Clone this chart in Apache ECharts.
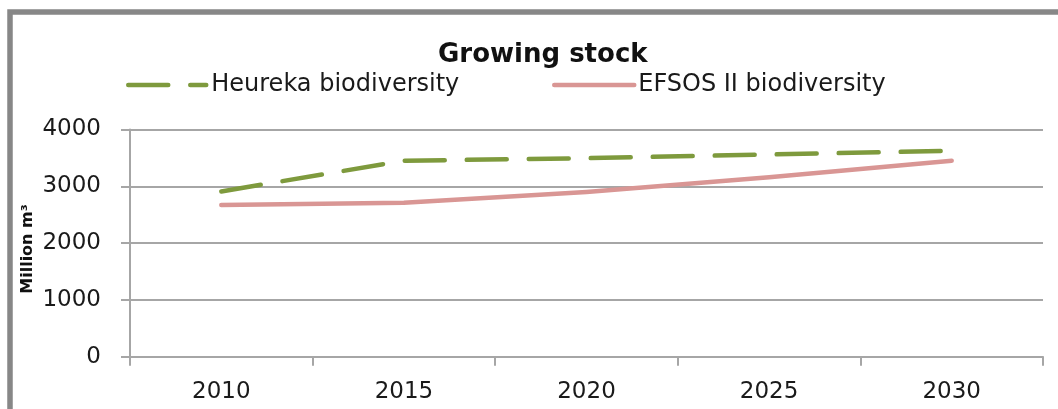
<!DOCTYPE html>
<html>
<head>
<meta charset="utf-8">
<script src="https://cdn.jsdelivr.net/npm/echarts@6/dist/echarts.min.js"></script>
<style>
  html, body { margin: 0; padding: 0; background: #ffffff; }
  #chart { width: 1058px; height: 409px; }
</style>
</head>
<body>
<div id="chart"></div>
<script>
// Growing stock projections, million m³
const years = ['2010', '2015', '2020', '2025', '2030'];
const heurekaBiodiversity = [2910, 3450, 3495, 3560, 3625];
const efsosBiodiversity = [2670, 2710, 2900, 3160, 3450];
const yTicks = { min: 0, max: 4000, interval: 1000 };
const yAxisTitle = 'Million m³';

const FONT = 'DejaVu Sans';
const GREEN = '#7e9a3d';
const PINK = '#d99694';
const GRID_GREY = '#a6a6a6';

// Legend keys show only the line stroke, no marker
const legendBase = {
  top: 68,
  itemHeight: 24,
  itemStyle: { color: 'rgba(0,0,0,0)', borderWidth: 0, opacity: 0 },
  lineStyle: { width: 4.5, cap: 'round' },
  textStyle: { fontFamily: FONT, fontSize: 24, color: '#1a1a1a' }
};

const chart = echarts.init(document.getElementById('chart'), null, { renderer: 'canvas' });

chart.setOption({
  backgroundColor: '#ffffff',
  animation: false,
  title: {
    text: 'Growing stock',
    left: 433,
    top: 37,
    textStyle: { fontFamily: FONT, fontWeight: 'bold', fontSize: 26, color: '#111111' }
  },
  graphic: [
    {
      type: 'rect',
      silent: true,
      shape: { x: 10, y: 12, width: 1200, height: 600 },
      style: { fill: 'none', stroke: '#878787', lineWidth: 5.5 }
    },
    {
      // vertical y-axis title, left of the tick labels
      type: 'text',
      silent: true,
      x: 28,
      y: 249,
      rotation: Math.PI / 2,
      style: {
        text: yAxisTitle,
        fontFamily: FONT,
        fontWeight: 'bold',
        fontSize: 16,
        fill: '#111111',
        align: 'center',
        verticalAlign: 'middle'
      }
    }
  ],
  legend: [
    Object.assign({}, legendBase, {
      data: ['Heureka biodiversity'],
      left: 121,
      itemWidth: 78,
      textStyle: Object.assign({}, legendBase.textStyle, { padding: [0, 0, 0, 0] })
    }),
    Object.assign({}, legendBase, {
      data: ['EFSOS II biodiversity'],
      left: 547,
      itemWidth: 80,
      textStyle: Object.assign({}, legendBase.textStyle, { padding: [0, 0, 0, -1] })
    })
  ],
  grid: { left: 130, right: 15, top: 129.5, bottom: 52.3, containLabel: false },
  xAxis: {
    type: 'category',
    data: years,
    boundaryGap: true,
    axisLine: { lineStyle: { color: GRID_GREY, width: 2 } },
    axisTick: { show: true, interval: 0, length: 9, lineStyle: { color: GRID_GREY, width: 2 } },
    axisLabel: { margin: 24, fontFamily: FONT, fontSize: 23, color: '#1a1a1a' },
    splitLine: { show: false }
  },
  yAxis: {
    type: 'value',
    min: yTicks.min,
    max: yTicks.max,
    interval: yTicks.interval,
    axisLine: { show: true, lineStyle: { color: GRID_GREY, width: 2 } },
    axisTick: { show: true, length: 9, lineStyle: { color: GRID_GREY, width: 2 } },
    axisLabel: {
      margin: 29, fontFamily: FONT, fontSize: 23, color: '#1a1a1a',
      formatter: (v) => String(v)
    },
    splitLine: { show: true, lineStyle: { color: GRID_GREY, width: 2 } }
  },
  series: [
    {
      name: 'Heureka biodiversity',
      type: 'line',
      data: heurekaBiodiversity,
      symbol: 'none',
      color: GREEN,
      lineStyle: { color: GREEN, width: 4.5, type: [40, 22], cap: 'round', join: 'round' },
      z: 3
    },
    {
      name: 'EFSOS II biodiversity',
      type: 'line',
      data: efsosBiodiversity,
      symbol: 'none',
      color: PINK,
      lineStyle: { color: PINK, width: 4.5, cap: 'round', join: 'round' },
      z: 2
    }
  ]
});
</script>
</body>
</html>
